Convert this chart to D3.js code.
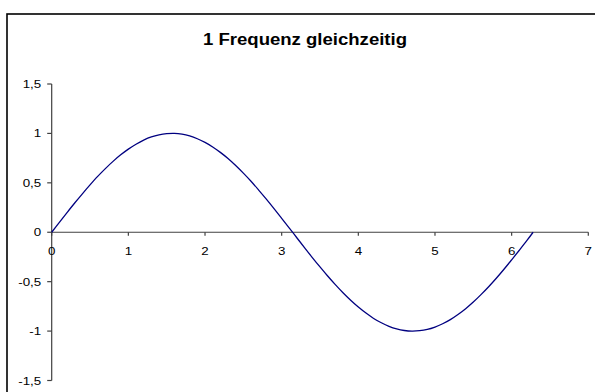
<!DOCTYPE html>
<html>
<head>
<meta charset="utf-8">
<script src="https://cdn.jsdelivr.net/npm/d3@7/dist/d3.min.js"></script>
<style>
  html, body { margin: 0; padding: 0; background: #fff; }
  svg { display: block; }
  text { font-family: "Liberation Sans", Arial, sans-serif; fill: #000; }
</style>
</head>
<body>
<svg id="chart" width="595" height="392"></svg>
<script>
// Chart title
const title = "1 Frequenz gleichzeitig";

// Sampled curve: x positions and amplitudes
const xValues = [
  0.0, 0.1, 0.2, 0.3, 0.4, 0.5, 0.6, 0.7, 0.8, 0.9,
  1.0, 1.1, 1.2, 1.3, 1.4, 1.5, 1.6, 1.7, 1.8, 1.9,
  2.0, 2.1, 2.2, 2.3, 2.4, 2.5, 2.6, 2.7, 2.8, 2.9,
  3.0, 3.1, 3.2, 3.3, 3.4, 3.5, 3.6, 3.7, 3.8, 3.9,
  4.0, 4.1, 4.2, 4.3, 4.4, 4.5, 4.6, 4.7, 4.8, 4.9,
  5.0, 5.1, 5.2, 5.3, 5.4, 5.5, 5.6, 5.7, 5.8, 5.9,
  6.0, 6.1, 6.2, 6.28
];
const yValues = [
  0.000, 0.100, 0.199, 0.296, 0.389, 0.479, 0.565, 0.644, 0.717, 0.783,
  0.841, 0.891, 0.932, 0.964, 0.985, 0.997, 1.000, 0.992, 0.974, 0.946,
  0.909, 0.863, 0.808, 0.746, 0.675, 0.598, 0.516, 0.427, 0.335, 0.239,
  0.141, 0.042, -0.058, -0.158, -0.256, -0.351, -0.443, -0.530, -0.612, -0.688,
  -0.757, -0.818, -0.872, -0.916, -0.952, -0.978, -0.994, -1.000, -0.996, -0.983,
  -0.959, -0.926, -0.884, -0.832, -0.773, -0.706, -0.631, -0.551, -0.465, -0.374,
  -0.279, -0.182, -0.083, 0.000
];

// Axis ticks and labels
const xTicks = [0, 1, 2, 3, 4, 5, 6, 7];
const yTicks = [-1.5, -1, -0.5, 0, 0.5, 1, 1.5];
const yTickLabels = ["-1,5", "-1", "-0,5", "0", "0,5", "1", "1,5"];

const svg = d3.select("#chart");
const stretch = 1.16;   // horizontal text stretch

// Outer frame
svg.append("rect")
  .attr("x", 7).attr("y", 14)
  .attr("width", 620).attr("height", 420)
  .attr("fill", "none").attr("stroke", "#000").attr("stroke-width", 1.6);

const x = d3.scaleLinear().domain([0, 7]).range([51.7, 588.3]);
const y = d3.scaleLinear().domain([-1.5, 1.5]).range([380.5, 84]);

// Title
svg.append("text")
  .attr("transform", `translate(305,45) scale(${stretch},1)`)
  .attr("text-anchor", "middle")
  .attr("font-size", 16)
  .attr("font-weight", "bold")
  .text(title);

const axisColor = "#404040";

// Y axis at x = 0
const yAxis = svg.append("g").attr("transform", `translate(${x(0)},0)`);
yAxis.append("line")
  .attr("y1", y(1.5)).attr("y2", y(-1.5))
  .attr("stroke", axisColor).attr("stroke-width", 1.2);
yAxis.selectAll("line.tick").data(yTicks).join("line")
  .attr("class", "tick")
  .attr("x1", -4.5).attr("x2", 0)
  .attr("y1", d => y(d)).attr("y2", d => y(d))
  .attr("stroke", axisColor).attr("stroke-width", 1.2);
yAxis.selectAll("text").data(yTicks).join("text")
  .attr("transform", d => `translate(-10.5,${y(d) + 4}) scale(${stretch},1)`)
  .attr("text-anchor", "end")
  .attr("font-size", 11.5)
  .text((d, i) => yTickLabels[i]);

// X axis at y = 0
const xAxis = svg.append("g").attr("transform", `translate(0,${y(0)})`);
xAxis.append("line")
  .attr("x1", x(0)).attr("x2", x(7))
  .attr("stroke", axisColor).attr("stroke-width", 1.2);
xAxis.selectAll("line.tick").data(xTicks).join("line")
  .attr("class", "tick")
  .attr("x1", d => x(d)).attr("x2", d => x(d))
  .attr("y1", 0).attr("y2", 3.5)
  .attr("stroke", axisColor).attr("stroke-width", 1.2);
xAxis.selectAll("text").data(xTicks).join("text")
  .attr("transform", d => `translate(${x(d)},23) scale(${stretch},1)`)
  .attr("text-anchor", "middle")
  .attr("font-size", 11.5)
  .text(d => d);

// Curve
const points = xValues.map((v, i) => [v, yValues[i]]);
svg.append("path")
  .datum(points)
  .attr("fill", "none")
  .attr("stroke", "#000080")
  .attr("stroke-width", 1.3)
  .attr("d", d3.line().x(d => x(d[0])).y(d => y(d[1])).curve(d3.curveCatmullRom));
</script>
</body>
</html>
